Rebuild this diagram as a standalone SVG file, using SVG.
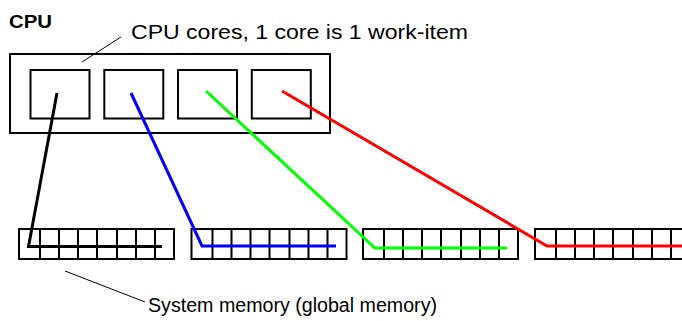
<svg xmlns="http://www.w3.org/2000/svg" width="682" height="321" viewBox="0 0 682 321">
  <style>
    .box { fill: #ffffff; stroke: #000000; stroke-width: 2; }
    .cell { stroke: #000000; stroke-width: 2; }
    .lead { stroke: #000000; stroke-width: 1; fill: none; }
    .wire { fill: none; stroke-width: 3; stroke-linejoin: miter; }
    .label { font-family: "Liberation Sans", Arial, sans-serif; font-size: 19.5px; fill: #000000; }
    .title { font-family: "Liberation Sans", Arial, sans-serif; font-size: 18px; font-weight: bold; fill: #000000; }
  </style>
  <defs>
    <!-- one memory block: outer frame plus 7 cell dividers -->
    <g id="memblock">
      <rect class="box" x="0" y="0" width="155" height="30"/>
      <path class="cell" d="M21 0V30M40 0V30M59 0V30M78 0V30M98 0V30M117 0V30M136 0V30"/>
    </g>
  </defs>

  <g id="cpu">
    <text class="title" x="9" y="27.5" textLength="43" lengthAdjust="spacingAndGlyphs">CPU</text>
    <rect class="box" x="10" y="54" width="320" height="79"/>
  </g>

  <g id="core1"><rect class="box" x="30.5" y="70" width="59" height="48.5"/></g>
  <g id="core2"><rect class="box" x="104.3" y="70" width="59" height="48.5"/></g>
  <g id="core3"><rect class="box" x="178" y="70" width="59" height="48.5"/></g>
  <g id="core4"><rect class="box" x="251.8" y="70" width="59" height="48.5"/></g>

  <g id="mem1"><use href="#memblock" x="19" y="229"/></g>
  <g id="mem2"><use href="#memblock" x="191.5" y="229"/></g>
  <g id="mem3"><use href="#memblock" x="363" y="229"/></g>
  <g id="mem4"><use href="#memblock" x="535" y="229"/></g>

  <g id="labels">
    <line class="lead" x1="82" y1="62" x2="121" y2="37"/>
    <text class="label" x="131" y="39" style="font-size:20.5px" textLength="337" lengthAdjust="spacingAndGlyphs">CPU cores, 1 core is 1 work-item</text>
    <line class="lead" x1="65" y1="271" x2="145" y2="302"/>
    <text class="label" x="148" y="311.5" textLength="289" lengthAdjust="spacingAndGlyphs">System memory (global memory)</text>
  </g>

  <g id="connectors">
    <polyline class="wire" stroke="#000000" points="57,93 28.5,246.5 162,246.5"/>
    <polyline class="wire" stroke="#0000ff" points="131,93 202,246 336,246"/>
    <polyline class="wire" stroke="#00ff00" points="206,91 375,248 507,248"/>
    <polyline class="wire" stroke="#ff0000" points="282,91 547,246 682,246"/>
  </g>
</svg>
